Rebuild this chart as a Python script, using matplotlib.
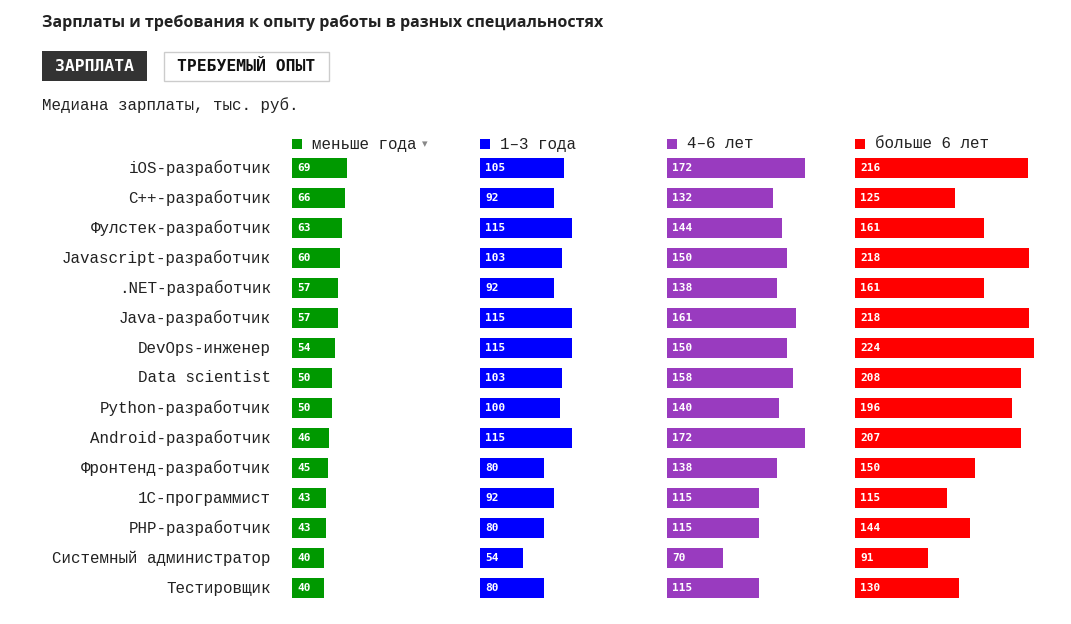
import matplotlib
matplotlib.use("Agg")
import matplotlib.pyplot as plt
from matplotlib.patches import Rectangle

W, H = 1071, 624

categories = ["iOS-разработчик", "C++-разработчик", "Фулстек-разработчик",
              "Javascript-разработчик", ".NET-разработчик", "Java-разработчик",
              "DevOps-инженер", "Data scientist", "Python-разработчик",
              "Android-разработчик", "Фронтенд-разработчик", "1С-программист",
              "PHP-разработчик", "Системный администратор", "Тестировщик"]
less_1 = [69, 66, 63, 60, 57, 57, 54, 50, 50, 46, 45, 43, 43, 40, 40]
y1_3 = [105, 92, 115, 103, 92, 115, 115, 103, 100, 115, 80, 92, 80, 54, 80]
y4_6 = [172, 132, 144, 150, 138, 161, 150, 158, 140, 172, 138, 115, 115, 70, 115]
more_6 = [216, 125, 161, 218, 161, 218, 224, 208, 196, 207, 150, 115, 144, 91, 130]
series_names = ["меньше года", "1–3 года", "4–6 лет", "больше 6 лет"]
series = [less_1, y1_3, y4_6, more_6]
colors = ["#009900", "#0000ff", "#993bbf", "#ff0000"]

title = "Зарплаты и требования к опыту работы в разных специальностях"
subtitle = "Медиана зарплаты, тыс. руб."

MONO = "Liberation Mono"

fig = plt.figure(figsize=(W / 100, H / 100), dpi=100)
fig.patch.set_facecolor("white")


def fx(x):
    return x / W


def fy(y):
    return 1 - y / H


# Title
fig.text(fx(42), fy(22.5), title, fontsize=11.5, fontweight="bold",
         family="Open Sans", color="#222222", va="center", ha="left")

# Overlay axes in pixel coordinates
btn_ax = fig.add_axes([0, 0, 1, 1])
btn_ax.set_xlim(0, W)
btn_ax.set_ylim(H, 0)
btn_ax.axis("off")
btn_ax.add_patch(Rectangle((42, 51), 105, 30, facecolor="#333333", edgecolor="none"))
btn_ax.add_patch(Rectangle((163.5, 51.5), 165, 29, facecolor="white",
                           edgecolor="#cccccc", linewidth=1))
btn_ax.text(94.5, 66.5, "ЗАРПЛАТА", color="white", fontsize=11.8, fontweight="bold",
            family="DejaVu Sans Mono", ha="center", va="center")
btn_ax.text(246, 66.5, "ТРЕБУЕМЫЙ ОПЫТ", color="#111111", fontsize=11.8,
            fontweight="bold", family="DejaVu Sans Mono", ha="center", va="center")

# Subtitle
fig.text(fx(42), fy(105), subtitle, fontsize=11.4, family=MONO, color="#222222",
         va="center", ha="left")

# Columns
col_left = [292, 480, 667, 855]
col_w = 187.5
px_per_unit = 0.8
top, row_h = 153, 30
n = len(categories)
for ci, (vals, name, col) in enumerate(zip(series, series_names, colors)):
    ax = fig.add_axes([fx(col_left[ci]), fy(top + row_h * n), col_w / W, row_h * n / H])
    ax.set_xlim(0, col_w / px_per_unit)
    ax.set_ylim(n - 0.5, -0.5)
    ax.axis("off")
    ax.barh(range(n), vals, height=20 / 30, color=col, edgecolor="none")
    for i, v in enumerate(vals):
        ax.text(5 / px_per_unit, i, str(v), color="white", fontsize=8,
                fontweight="bold", family="DejaVu Sans Mono", ha="left", va="center")
    # legend header
    btn_ax.add_patch(Rectangle((col_left[ci], 139), 10, 10, facecolor=col, edgecolor="none"))
    btn_ax.text(col_left[ci] + 20, 144, name, fontsize=11.4, family=MONO,
                color="#222222", ha="left", va="center")
    if ci == 0:
        btn_ax.text(425, 144, "▾", fontsize=8, family="DejaVu Sans",
                    color="#888888", ha="center", va="center")

# Category labels
for i, c in enumerate(categories):
    btn_ax.text(271, top + row_h * i + 15, c, fontsize=11.4, family=MONO,
                color="#222222", ha="right", va="center")

fig.savefig("out.png", dpi=100, facecolor="white")
